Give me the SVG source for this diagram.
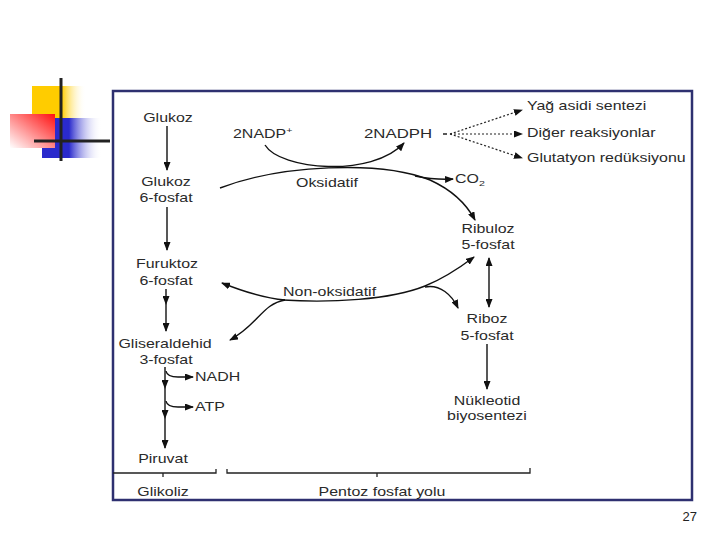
<svg xmlns="http://www.w3.org/2000/svg" width="720" height="540" viewBox="0 0 720 540">
<style>
.t{font-family:"Liberation Sans",Arial,sans-serif;font-size:12px;fill:#2a2a2a;text-anchor:middle}
.tl{font-family:"Liberation Sans",Arial,sans-serif;font-size:12px;fill:#2a2a2a;text-anchor:start}
.ln{fill:none;stroke:#111;stroke-width:1.4}
.dot{fill:none;stroke:#222;stroke-width:1.2;stroke-dasharray:2 2}
.br{fill:none;stroke:#222;stroke-width:1.3}
.deco{stroke:#222;stroke-width:3}
</style>
<defs>
<marker id="ah" markerWidth="9" markerHeight="7" refX="8" refY="3.5" orient="auto-start-reverse" markerUnits="userSpaceOnUse">
<path d="M0,0 L9,3.5 L0,7 Z" fill="#111"/>
</marker>
<linearGradient id="gy" x1="0" y1="0" x2="1" y2="0">
<stop offset="0" stop-color="#ffcc00"/><stop offset="0.55" stop-color="#ffcc00"/><stop offset="1" stop-color="#ffffff" stop-opacity="0"/>
</linearGradient>
<linearGradient id="gb" x1="0" y1="0" x2="1" y2="0">
<stop offset="0" stop-color="#2a2acc"/><stop offset="0.45" stop-color="#2a2acc"/><stop offset="1" stop-color="#ffffff" stop-opacity="0"/>
</linearGradient>
<linearGradient id="gr" x1="0" y1="1" x2="1" y2="0">
<stop offset="0" stop-color="#ffffff"/><stop offset="1" stop-color="#ff1010"/>
</linearGradient>
</defs>
<rect width="720" height="540" fill="#ffffff"/>
<g id="decoration">
<rect x="32" y="86" width="54" height="32" fill="url(#gy)"/>
<rect x="42" y="118" width="60" height="40" fill="url(#gb)"/>
<rect x="10" y="114" width="45" height="34" fill="url(#gr)"/>
<line class="deco" x1="61" y1="78" x2="61" y2="161"/>
<line class="deco" x1="34" y1="141" x2="110" y2="141"/>
</g>
<rect id="frame" x="113" y="91" width="579" height="409" fill="#ffffff" stroke="#2e3070" stroke-width="2.5"/>
<g id="connectors">
<line class="ln" x1="167" y1="126" x2="167" y2="170" marker-end="url(#ah)"/>
<line class="ln" x1="167" y1="207" x2="167" y2="250" marker-end="url(#ah)"/>
<line class="ln" x1="166" y1="289" x2="166" y2="304" marker-end="url(#ah)"/>
<line class="ln" x1="166" y1="304" x2="166" y2="331" marker-end="url(#ah)"/>
<line class="ln" x1="165" y1="367" x2="165" y2="388" marker-end="url(#ah)"/>
<line class="ln" x1="165" y1="388" x2="165" y2="418" marker-end="url(#ah)"/>
<line class="ln" x1="165" y1="418" x2="165" y2="448" marker-end="url(#ah)"/>
<path class="ln" d="M166,371 Q167,377 178,377 L193,377" marker-end="url(#ah)"/>
<path class="ln" d="M166,401 Q167,407 178,407 L193,407" marker-end="url(#ah)"/>
<path class="ln" d="M265,145 C280,170 372,178 404,143" marker-end="url(#ah)"/>
<path class="ln" d="M220,188 C280,165 380,160 430,180 C452,190 467,205 475,220" stroke-width="1.6" marker-end="url(#ah)"/>
<path class="ln" d="M415,176 Q435,180 453,179" marker-end="url(#ah)"/>
<path class="ln" d="M443,134 L447,134"/>
<path class="dot" d="M450,134 L522,110" marker-end="url(#ah)"/>
<path class="dot" d="M450,134 L522,134" marker-end="url(#ah)"/>
<path class="dot" d="M450,134 L522,158" marker-end="url(#ah)"/>
<path class="ln" d="M285,300 C262,298 242,291 222,283" marker-end="url(#ah)"/>
<path class="ln" d="M283,300 C330,303 390,300 425,286 C445,278 462,266 474,257" stroke-width="1.6" marker-end="url(#ah)"/>
<path class="ln" d="M425,287 C440,284 452,295 458,308" marker-end="url(#ah)"/>
<path class="ln" d="M285,300 C262,304 258,325 230,340" marker-end="url(#ah)"/>
<line class="ln" x1="489" y1="258" x2="489" y2="307" marker-start="url(#ah)" marker-end="url(#ah)"/>
<line class="ln" x1="487" y1="344" x2="487" y2="389" marker-end="url(#ah)"/>
<path class="br" d="M113,473 L216,473 L216,469"/>
<line class="br" x1="163" y1="473" x2="163" y2="477"/>
<path class="br" d="M227,469 L227,473 L530,473 L530,468"/>
<line class="br" x1="377" y1="473" x2="377" y2="477"/>
</g>
<g id="n-glukoz"><text class="t" transform="translate(168,122) scale(1.33,1)">Glukoz</text></g>
<g id="n-g6p"><text class="t" transform="translate(166,186) scale(1.33,1)">Glukoz</text><text class="t" transform="translate(166,202) scale(1.33,1)">6-fosfat</text></g>
<g id="n-f6p"><text class="t" transform="translate(167,268) scale(1.33,1)">Furuktoz</text><text class="t" transform="translate(166,285) scale(1.33,1)">6-fosfat</text></g>
<g id="n-gap"><text class="t" transform="translate(165,348) scale(1.33,1)">Gliseraldehid</text><text class="t" transform="translate(166,364) scale(1.33,1)">3-fosfat</text></g>
<g id="n-nadh"><text class="tl" transform="translate(195,381) scale(1.33,1)">NADH</text></g>
<g id="n-atp"><text class="tl" transform="translate(195,411) scale(1.33,1)">ATP</text></g>
<g id="n-piruvat"><text class="t" transform="translate(163,463) scale(1.33,1)">Piruvat</text></g>
<g id="n-glikoliz"><text class="t" transform="translate(163,496) scale(1.33,1)">Glikoliz</text></g>
<g id="n-pentoz"><text class="t" transform="translate(382,496) scale(1.33,1)">Pentoz fosfat yolu</text></g>
<g id="n-nadp"><text class="tl" transform="translate(233,138) scale(1.33,1)">2NADP<tspan font-size="8" dy="-5">+</tspan></text></g>
<g id="n-nadph"><text class="tl" transform="translate(364,138) scale(1.4,1)">2NADPH</text></g>
<g id="n-oksidatif"><text class="t" transform="translate(327,187) scale(1.33,1)">Oksidatif</text></g>
<g id="n-co2"><text class="tl" transform="translate(455,183) scale(1.33,1)">CO<tspan font-size="8" dy="3">2</tspan></text></g>
<g id="n-ribuloz"><text class="t" transform="translate(488,233) scale(1.33,1)">Ribuloz</text><text class="t" transform="translate(488,249) scale(1.33,1)">5-fosfat</text></g>
<g id="n-nonoks"><text class="tl" transform="translate(283,296) scale(1.33,1)">Non-oksidatif</text></g>
<g id="n-riboz"><text class="t" transform="translate(487,323) scale(1.33,1)">Riboz</text><text class="t" transform="translate(487,340) scale(1.33,1)">5-fosfat</text></g>
<g id="n-nukleotid"><text class="t" transform="translate(487,405) scale(1.33,1)">Nükleotid</text><text class="t" transform="translate(487,420) scale(1.33,1)">biyosentezi</text></g>
<g id="n-yag"><text class="tl" transform="translate(527,110) scale(1.33,1)">Yağ asidi sentezi</text></g>
<g id="n-diger"><text class="tl" transform="translate(527,137) scale(1.33,1)">Diğer reaksiyonlar</text></g>
<g id="n-glutatyon"><text class="tl" transform="translate(527,162) scale(1.33,1)">Glutatyon redüksiyonu</text></g>
<text x="697" y="521" font-family="Liberation Sans, Arial, sans-serif" font-size="13" fill="#222" text-anchor="end">27</text>
</svg>
